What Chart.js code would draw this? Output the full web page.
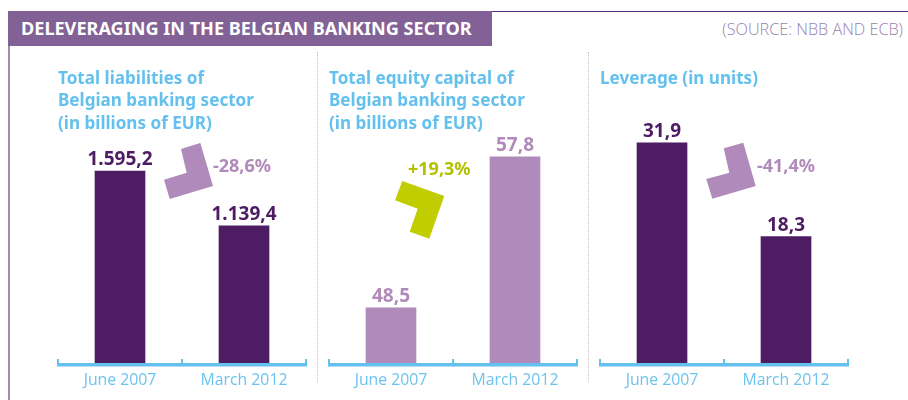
<!DOCTYPE html>
<html><head><meta charset="utf-8">
<script src="https://cdn.jsdelivr.net/npm/chart.js@4"></script>
<style>
html,body{margin:0;padding:0;background:#fff;width:908px;height:400px;overflow:hidden;font-family:"Noto Sans",sans-serif}
.abs{position:absolute}
canvas{position:absolute}
#hdr{left:8px;top:11px;width:484px;height:35px;background:#826296;color:#fff;font:700 18.1px "Noto Sans";line-height:35px;text-indent:13px;white-space:nowrap}
#topline{left:8px;top:11px;width:900px;height:1px;background:#5e2d82}
#leftline{left:8px;top:46px;width:2px;height:354px;background:#a488b4}
#src{right:5px;top:18px;color:#9a7fae;font:300 16.2px "Open Sans";line-height:22px;white-space:nowrap}
.sep{top:52px;height:330px;width:0;border-left:1px dotted #c4c4c4}
.delta{font:700 18px "Noto Sans";line-height:22px;white-space:nowrap}
</style></head><body>
<div class="abs" id="topline"></div>
<div class="abs" id="hdr">DELEVERAGING IN THE BELGIAN BANKING SECTOR</div>
<div class="abs" id="leftline"></div>
<div class="abs" id="src">(SOURCE: NBB AND ECB)</div>
<div class="abs sep" style="left:317px"></div>
<div class="abs sep" style="left:588px"></div>
<canvas id="c1" width="268" height="340" style="left:50px;top:60px;width:268px;height:340px"></canvas>
<canvas id="c2" width="268" height="340" style="left:321px;top:60px;width:268px;height:340px"></canvas>
<canvas id="c3" width="268" height="340" style="left:592px;top:60px;width:268px;height:340px"></canvas>
<svg class="abs" style="left:0;top:0" width="908" height="400">
<polygon points="181,149 200.3,143 213,186 169.7,199 164,179.7 186.7,172.7" fill="#b08aba"/>
<polygon points="402.3,181 444.3,196 429.3,238.7 409.7,231.7 417.7,208.7 395,200.3" fill="#c1cd00"/>
<polygon points="723.7,148.3 743.3,142.7 755.7,186 712.3,198.7 706.3,179 729.3,172.7" fill="#b08aba"/>
</svg>
<div class="abs delta" id="d1" style="left:213px;top:154px;color:#b08aba"></div>
<div class="abs delta" id="d2" style="left:408px;top:157px;color:#b3c000"></div>
<div class="abs delta" id="d3" style="left:757px;top:154px;color:#b08aba"></div>
<script>
const categories = ['June 2007', 'March 2012'];
const liabilities = [1595.2, 1139.4];
const equity = [48.5, 57.8];
const leverage = [31.9, 18.3];
const deltas = ['-28,6%', '+19,3%', '-41,4%'];
const titleLiabilities = ['Total liabilities of', 'Belgian banking sector', '(in billions of EUR)'];
const titleEquity = ['Total equity capital of', 'Belgian banking sector', '(in billions of EUR)'];
const titleLeverage = ['Leverage (in units)', '', ''];

const AXIS = '#64c1ee', DARK = '#4d1c62', LIGHT = '#b08aba';
const fmt = v => v.toLocaleString('de-DE', {minimumFractionDigits: 1, maximumFractionDigits: 1});

const decor = {
  id: 'decor',
  afterDatasetsDraw(chart) {
    const {ctx} = chart, x = chart.scales.x, b = chart.chartArea.bottom;
    const tickXs = [x.left, (x.getPixelForValue(0) + x.getPixelForValue(1)) / 2, x.right];
    ctx.save();
    ctx.fillStyle = AXIS;
    ctx.fillRect(x.left - 1, b, x.right - x.left + 2, 3.5);
    tickXs.forEach(t => ctx.fillRect(t - 1, b - 4, 2, 4));
    const meta = chart.getDatasetMeta(0);
    ctx.fillStyle = chart.options.plugins.decor.labelColor;
    ctx.font = '700 19px "Noto Sans"';
    ctx.textAlign = 'center';
    ctx.textBaseline = 'alphabetic';
    meta.data.forEach((el, i) => {
      ctx.fillText(fmt(chart.data.datasets[0].data[i]), el.x, el.y - 6);
    });
    ctx.restore();
  }
};

function panel(id, title, values, color, labelColor, min, max) {
  new Chart(document.getElementById(id), {
    type: 'bar',
    data: {labels: categories, datasets: [{data: values, backgroundColor: color, barThickness: 50}]},
    plugins: [decor],
    options: {
      responsive: false, animation: false,
      layout: {padding: {left: 8, right: 12, top: 0, bottom: 0}},
      plugins: {
        legend: {display: false}, tooltip: {enabled: false},
        decor: {labelColor},
        title: {display: true, text: title, align: 'start', color: AXIS,
          font: {family: 'Noto Sans', weight: '700', size: 17.1, lineHeight: 1.316},
          padding: {top: 7.5, bottom: 5}}
      },
      scales: {
        x: {
          grid: {display: false}, border: {display: false},
          afterFit(s) { s.height = 37; },
          ticks: {color: '#6cc3ee', padding: 0, maxRotation: 0,
            font: {family: 'Open Sans', weight: '400', size: 15.8}}
        },
        y: {display: false, min, max}
      }
    }
  });
}
panel('c1', titleLiabilities, liabilities, DARK, DARK, 0, 1853.7);
panel('c2', titleEquity, equity, LIGHT, LIGHT, 45.1, 58.83);
panel('c3', titleLeverage, leverage, DARK, DARK, 0, 32.3);
['d1', 'd2', 'd3'].forEach((id, i) => document.getElementById(id).textContent = deltas[i]);
</script>
</body></html>
